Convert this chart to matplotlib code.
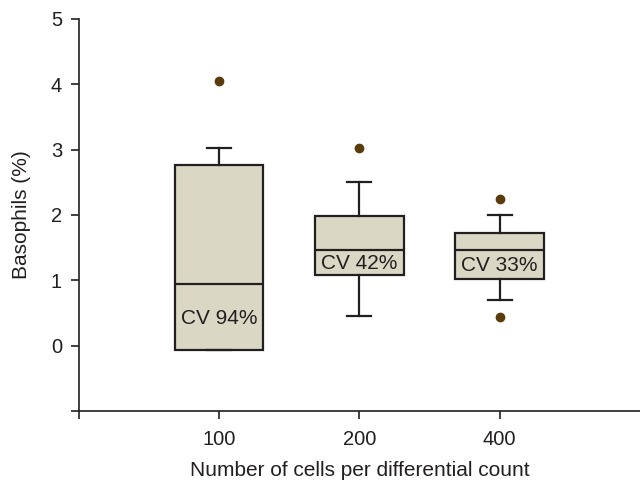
import matplotlib
matplotlib.use('Agg')
import matplotlib.pyplot as plt

# values
categories = ['100', '200', '400']
whisker_low = [-0.06, 0.45, 0.70]
q1 = [-0.06, 1.08, 1.02]
medians = [0.95, 1.47, 1.47]
q3 = [2.76, 1.99, 1.73]
whisker_high = [3.02, 2.50, 2.00]
outliers = [[4.05], [3.02], [2.25, 0.44]]
cv_labels = ['CV 94%', 'CV 42%', 'CV 33%']
cv_label_y = [0.41, 1.25, 1.23]

dark = '#231f20'
fill = '#dad8c4'
dot = '#5a3c0c'

plt.rcParams['font.family'] = ['Liberation Sans', 'DejaVu Sans']

fig = plt.figure(figsize=(6.4, 4.83), dpi=100)
ax = fig.add_axes([0.123, 0.149, 0.877, 0.812])

stats = []
for i in range(len(categories)):
    stats.append({'whislo': whisker_low[i], 'q1': q1[i], 'med': medians[i],
                  'q3': q3[i], 'whishi': whisker_high[i], 'fliers': outliers[i]})

positions = list(range(1, len(categories) + 1))
ax.bxp(stats, positions=positions, widths=0.63, capwidths=0.17, patch_artist=True,
       showfliers=True,
       boxprops=dict(facecolor=fill, edgecolor=dark, linewidth=1.6),
       medianprops=dict(color=dark, linewidth=1.6),
       whiskerprops=dict(color=dark, linewidth=1.6),
       capprops=dict(color=dark, linewidth=1.6),
       flierprops=dict(marker='o', markerfacecolor=dot, markeredgecolor=dot, markersize=6))

for x, y, lab in zip(positions, cv_label_y, cv_labels):
    ax.text(x, y, lab, ha='center', va='center', fontsize=15, color=dark)

ax.set_xlim(0, 4)
ax.set_ylim(-1, 5)
ax.set_yticks(range(-1, 6))
ax.set_yticklabels([''] + [str(v) for v in range(0, 6)])
ax.set_xticks([0] + positions)
ax.set_xticklabels([''] + categories)

for s in ['top', 'right']:
    ax.spines[s].set_visible(False)
for s in ['left', 'bottom']:
    ax.spines[s].set_color(dark)
    ax.spines[s].set_linewidth(1.2)

ax.tick_params(axis='both', colors=dark, labelcolor=dark, labelsize=14.5,
               length=6, width=1.2, direction='out')
ax.tick_params(axis='y', pad=6)
ax.tick_params(axis='x', pad=8)

ax.set_ylabel('Basophils (%)', fontsize=15, color=dark, labelpad=14)
ax.set_xlabel('Number of cells per differential count', fontsize=15, color=dark, labelpad=8)

plt.savefig('out.png', dpi=100)
